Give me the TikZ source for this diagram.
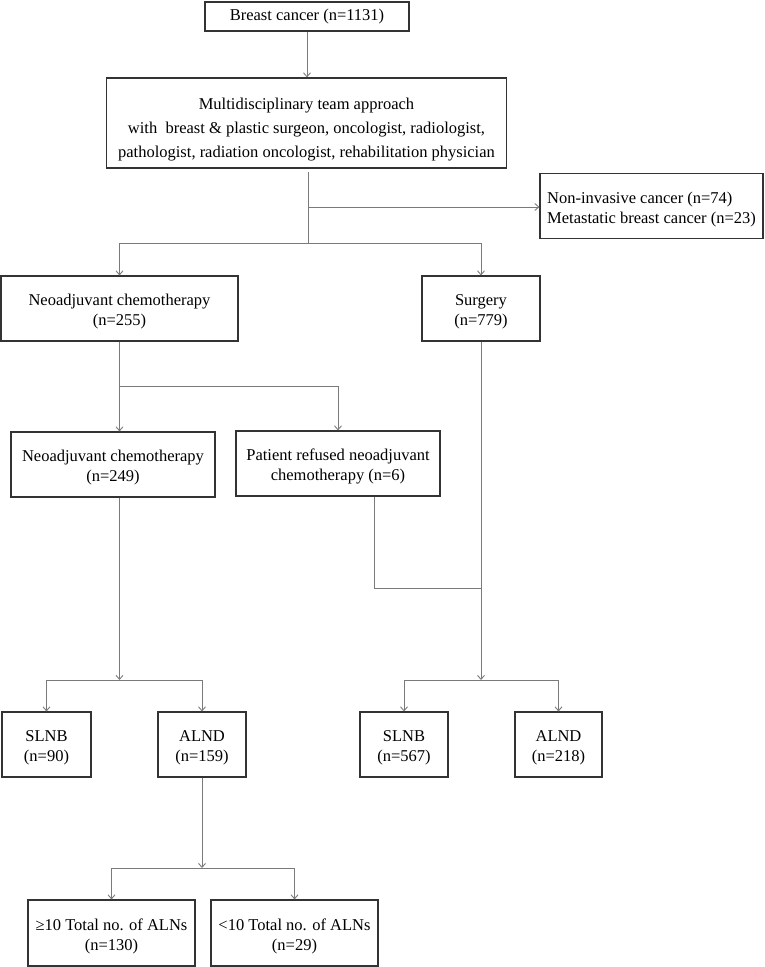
\documentclass[tikz,border=0pt]{standalone}
\usepackage{fontspec}
\setmainfont{Liberation Serif}
\usetikzlibrary{arrows.meta}
\definecolor{boxc}{HTML}{333333}
\definecolor{linec}{HTML}{7A7A7A}
\newcommand\mystrut[1]{\rule{0pt}{#1}}
\tikzset{
  box/.style={draw=boxc, line width=1.1pt, inner sep=0pt, align=center,
    font=\fontsize{16.5}{20}\selectfont},
  conn/.style={draw=linec, line width=0.9pt},
  arr/.style={conn, -{Straight Barb[length=4pt,width=7pt]}}
}
\begin{document}
\begin{tikzpicture}[x=1pt,y=-1pt]
\useasboundingbox (0,0) rectangle (765,967);
% nodes
\node[box, minimum width=204, minimum height=29] (bc) at (307,16.5) {Breast cancer (n=1131)};
\node[box, minimum width=400, minimum height=90, font=\fontsize{16.5}{24}\selectfont] (mdt) at (306.5,123)
  {\mystrut{25pt}Multidisciplinary team approach\\ with\ \ breast \& plastic surgeon, oncologist, radiologist,\\ pathologist, radiation oncologist, rehabilitation physician};
\node[box, minimum width=223, minimum height=65, align=left] (ni) at (651.5,206)
  {\mystrut{18pt}Non-invasive cancer (n=74)\\Metastatic breast cancer (n=23)};
\node[box, minimum width=237, minimum height=65] (neo) at (119.5,308.5) {\mystrut{17pt}Neoadjuvant chemotherapy\\(n=255)};
\node[box, minimum width=118, minimum height=65] (surg) at (481,308.5) {\mystrut{17pt}Surgery\\(n=779)};
\node[box, minimum width=204, minimum height=65] (neo2) at (113,464.5) {\mystrut{17.5pt}Neoadjuvant chemotherapy\\(n=249)};
\node[box, minimum width=204, minimum height=65] (ref) at (338,463.5) {\mystrut{18pt}Patient refused neoadjuvant\\chemotherapy (n=6)};
\node[box, minimum width=89, minimum height=65] (slnb1) at (46.5,744.5) {\mystrut{17pt}SLNB\\(n=90)};
\node[box, minimum width=88, minimum height=65] (alnd1) at (202,744.5) {\mystrut{17pt}ALND\\(n=159)};
\node[box, minimum width=88, minimum height=65] (slnb2) at (404,744.5) {\mystrut{17pt}SLNB\\(n=567)};
\node[box, minimum width=87, minimum height=65] (alnd2) at (558.5,744.5) {\mystrut{17pt}ALND\\(n=218)};
\node[box, minimum width=167, minimum height=66] (ge) at (111.5,933) {\mystrut{17.5pt}≥10 Total no. of ALNs\\(n=130)};
\node[box, minimum width=167, minimum height=66] (lt) at (294.5,933) {\mystrut{17.5pt}<10 Total no. of ALNs\\(n=29)};
% connectors
\draw[arr] (bc.south) -- (bc.south |- mdt.north);
\coordinate (t1) at (308,172);
\coordinate (j0) at (308,243);
\coordinate (jn) at (308,207);
\draw[conn] (t1) -- (j0);
\draw[arr] (jn) -- (jn -| ni.west);
\draw[conn] (neo.north |- j0) -- (surg.north |- j0);
\draw[arr] (neo.north |- j0) -- (neo.north);
\draw[arr] (surg.north |- j0) -- (surg.north);
% neoadjuvant split
\draw[arr] (neo.south) -- (neo.south |- neo2.north);
\coordinate (j2) at (119.5,386);
\draw[conn] (j2) -- (j2 -| ref.north);
\draw[arr] (j2 -| ref.north) -- (ref.north);
% neo2 down
\coordinate (j3) at (119.5,680);
\draw[arr] (neo.south |- neo2.south) -- (j3);
\draw[conn] (j3 -| slnb1.north) -- (j3 -| alnd1.north);
\draw[arr] (j3 -| slnb1.north) -- (slnb1.north);
\draw[arr] (j3 -| alnd1.north) -- (alnd1.north);
% refused joins surgery
\coordinate (r2) at (374,588);
\draw[conn] (r2 |- ref.south) -- (r2) -- (r2 -| surg.south);
% surgery down
\coordinate (j4) at (481,680);
\draw[arr] (surg.south) -- (j4);
\draw[conn] (j4 -| slnb2.north) -- (j4 -| alnd2.north);
\draw[arr] (j4 -| slnb2.north) -- (slnb2.north);
\draw[arr] (j4 -| alnd2.north) -- (alnd2.north);
% ALND split
\coordinate (j5) at (202,868);
\draw[arr] (alnd1.south) -- (j5);
\draw[conn] (j5 -| ge.north) -- (j5 -| lt.north);
\draw[arr] (j5 -| ge.north) -- (ge.north);
\draw[arr] (j5 -| lt.north) -- (lt.north);
\end{tikzpicture}
\end{document}
